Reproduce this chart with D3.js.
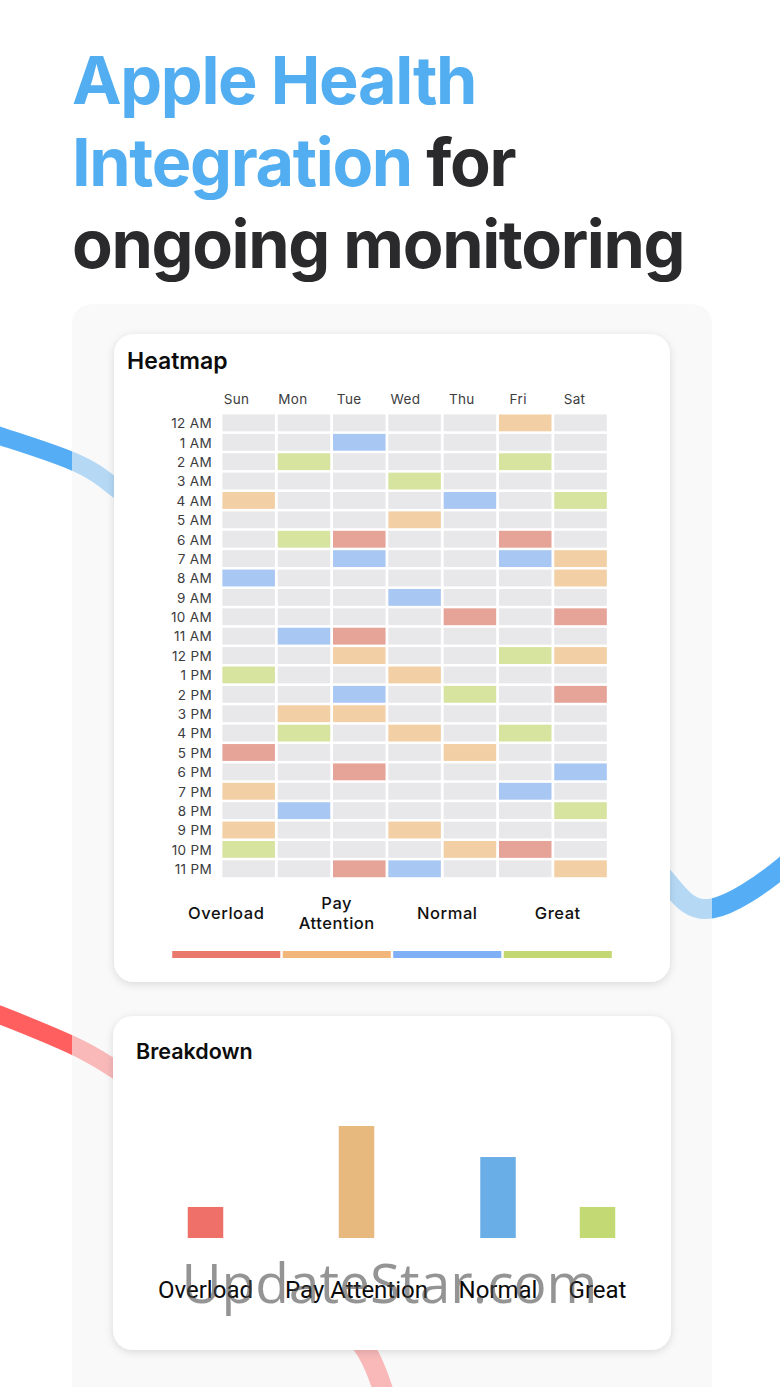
<!DOCTYPE html>
<html>
<head>
<meta charset="utf-8">
<script src="https://cdn.jsdelivr.net/npm/d3@7"></script>
<style>
  body { margin: 0; background: #fff; }
  svg { display: block; }
</style>
</head>
<body>
<svg id="chart" width="780" height="1387"></svg>
<script>
const days = ["Sun", "Mon", "Tue", "Wed", "Thu", "Fri", "Sat"];
const hours = ["12 AM", "1 AM", "2 AM", "3 AM", "4 AM", "5 AM", "6 AM", "7 AM", "8 AM", "9 AM", "10 AM", "11 AM",
  "12 PM", "1 PM", "2 PM", "3 PM", "4 PM", "5 PM", "6 PM", "7 PM", "8 PM", "9 PM", "10 PM", "11 PM"];
const levels = ["Overload", "Pay Attention", "Normal", "Great"];
const breakdownValues = [1.94, 7, 5.06, 1.94];

// one string per hour, one letter per day: O P N G, dot = empty
const heatRows = [
  ".....P.", "..N....", ".G...G.", "...G...", "P...N.G", "...P...",
  ".GO..O.", "..N..NP", "N.....P", "...N...", "....O.O", ".NO....",
  "..P..GP", "G..P...", "..N.G.O", ".PP....", ".G.P.G.", "O...P..",
  "..O...N", "P....N.", ".N....G", "P..P...", "G...PO.", "..ON..P"
];

const cellColor = { O: "#e6a398", P: "#f2cfa5", N: "#a9c7f3", G: "#d6e4a0", ".": "#e8e8ea" };
const legendColors = ["#e8796c", "#f2b67a", "#7fb0f5", "#c3d873"];
const barColors = ["#ee7068", "#e8b97f", "#6aaee8", "#c3da74"];
const barCenters = [205.5, 356.5, 498, 597.5];

const svg = d3.select("#chart");
const font = "Inter, 'Noto Sans', sans-serif";

const defs = svg.append("defs");
const shadow = defs.append("filter").attr("id", "shadow")
  .attr("x", "-5%").attr("y", "-5%").attr("width", "110%").attr("height", "110%");
shadow.append("feDropShadow")
  .attr("dx", 0).attr("dy", 2).attr("stdDeviation", 4)
  .attr("flood-color", "#000").attr("flood-opacity", 0.13);

// background ribbons, the panel goes over them
const ribbon = d3.line().curve(d3.curveNatural);
const ribbons = [
  { color: "#55aef5", w: 18, pts: [[-30, 425], [0, 436], [72, 461], [113, 486], [150, 515]] },
  { color: "#55aef5", w: 20, pts: [[640, 850], [671, 886], [712, 908.5], [780, 869.5], [810, 838]] },
  { color: "#ff5f5f", w: 18, pts: [[-30, 1004], [0, 1015], [72, 1045], [113, 1068], [160, 1096]] },
  { color: "#ff5f5f", w: 20, pts: [[335, 1310], [367, 1352], [382, 1387], [392, 1415]] }
];
svg.selectAll("path.ribbon").data(ribbons).join("path")
  .attr("class", "ribbon")
  .attr("d", d => ribbon(d.pts))
  .attr("fill", "none")
  .attr("stroke", d => d.color)
  .attr("stroke-width", d => d.w);

svg.append("rect")
  .attr("x", 72).attr("y", 304).attr("width", 640).attr("height", 1120).attr("rx", 20)
  .attr("fill", "rgba(245,245,245,0.6)");

// headline
const title = svg.append("g")
  .attr("font-family", font).attr("font-weight", 700).attr("font-size", 66.5)
  .attr("letter-spacing", -1.35);
title.append("text").attr("x", 72).attr("y", 104).attr("fill", "#52aef0").text("Apple Health");
const line2 = title.append("text").attr("x", 72).attr("y", 186);
line2.append("tspan").attr("fill", "#52aef0").text("Integration");
line2.append("tspan").attr("fill", "#2a2a2c").text(" for");
title.append("text").attr("x", 72).attr("y", 268).attr("fill", "#2a2a2c").text("ongoing monitoring");

// cards
svg.append("rect").attr("x", 114).attr("y", 334).attr("width", 556).attr("height", 648).attr("rx", 20)
  .attr("fill", "#fff").attr("filter", "url(#shadow)");
svg.append("rect").attr("x", 113).attr("y", 1016).attr("width", 558).attr("height", 334).attr("rx", 20)
  .attr("fill", "#fff").attr("filter", "url(#shadow)");

svg.append("text").attr("x", 127).attr("y", 369)
  .attr("font-family", font).attr("font-weight", 600).attr("font-size", 23).attr("fill", "#0c0c0c")
  .text("Heatmap");

// heatmap
const x = d3.scaleBand().domain(days).range([221, 608.2]).paddingInner(0.05).paddingOuter(0.025);
const y = d3.scaleBand().domain(hours).range([413.2, 878.5]).paddingInner(0.13).paddingOuter(0.065);

const cells = hours.flatMap((h, i) => days.map((d, j) => ({ hour: h, day: d, level: heatRows[i][j] })));
svg.append("g").selectAll("rect").data(cells).join("rect")
  .attr("x", d => x(d.day))
  .attr("y", d => y(d.hour))
  .attr("width", x.bandwidth())
  .attr("height", y.bandwidth())
  .attr("fill", d => cellColor[d.level]);

const dayLabels = d3.scalePoint().domain(days).range([236, 574]);
const topAxis = svg.append("g").attr("transform", "translate(0,394)")
  .call(d3.axisTop(dayLabels).tickSize(0).tickPadding(0));
const leftAxis = svg.append("g").attr("transform", "translate(218,1)")
  .call(d3.axisLeft(y).tickSize(0).tickPadding(6));
[topAxis, leftAxis].forEach(a => {
  a.select(".domain").remove();
  a.selectAll("text")
    .attr("font-family", "Inter, sans-serif").attr("font-size", 13.5)
    .attr("letter-spacing", 0.35).attr("fill", "#3c3c3e");
});
topAxis.selectAll("text").attr("dy", "0.71em");

// legend
const legendX = d3.scaleBand().domain(levels).range([171, 613]).paddingInner(0.022).paddingOuter(0.011);
svg.append("g").selectAll("rect").data(levels).join("rect")
  .attr("x", d => legendX(d))
  .attr("y", 951)
  .attr("width", legendX.bandwidth())
  .attr("height", 7)
  .attr("fill", (d, i) => legendColors[i]);

const legendText = svg.append("g").selectAll("text").data(levels).join("text")
  .attr("x", d => legendX(d) + legendX.bandwidth() / 2)
  .attr("y", 919)
  .attr("text-anchor", "middle")
  .attr("font-family", font).attr("font-weight", 500).attr("font-size", 16.5)
  .attr("letter-spacing", 0.55).attr("fill", "#111");
legendText.each(function (d) {
  const t = d3.select(this);
  const parts = d.split(" ");
  if (parts.length === 1) { t.text(d); return; }
  parts.forEach((p, i) => {
    t.append("tspan")
      .attr("x", t.attr("x"))
      .attr("y", 909 + i * 20)
      .text(p);
  });
});

// breakdown bars
svg.append("text").attr("x", 136).attr("y", 1059)
  .attr("font-family", font).attr("font-weight", 600).attr("font-size", 21.5).attr("fill", "#0c0c0c")
  .text("Breakdown");

const barX = d3.scaleOrdinal().domain(levels).range(barCenters);
const barY = d3.scaleLinear().domain([0, 7]).range([1238, 1126]);

svg.append("g").selectAll("rect").data(levels).join("rect")
  .attr("x", d => barX(d) - 17.75)
  .attr("y", (d, i) => barY(breakdownValues[i]))
  .attr("width", 35.5)
  .attr("height", (d, i) => barY(0) - barY(breakdownValues[i]))
  .attr("fill", (d, i) => barColors[i]);

svg.append("g").selectAll("text").data(levels).join("text")
  .attr("x", d => barX(d))
  .attr("y", 1298)
  .attr("text-anchor", "middle")
  .attr("font-family", "Roboto, sans-serif").attr("font-size", 24).attr("fill", "#0a0a0a")
  .text(d => d);

// watermark on top of everything
svg.append("text").attr("x", 389.5).attr("y", 1303)
  .attr("text-anchor", "middle")
  .attr("font-family", "'Open Sans', sans-serif").attr("font-weight", 400).attr("font-size", 55)
  .attr("fill", "rgba(70,70,70,0.58)")
  .text("UpdateStar.com");
</script>
</body>
</html>
